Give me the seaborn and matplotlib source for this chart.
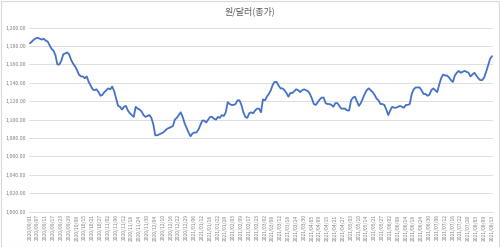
import numpy as np
import pandas as pd
import matplotlib
matplotlib.use("Agg")
import matplotlib.pyplot as plt
import seaborn as sns

# --- data -------------------------------------------------------------
title = "원/달러(종가)"
start_date = "2020-09-01"
end_date = "2021-08-13"
holidays = ["2020-09-30", "2020-10-01", "2020-10-02", "2020-10-09",
            "2020-12-25", "2020-12-31", "2021-01-01", "2021-02-11",
            "2021-02-12", "2021-03-01", "2021-05-05", "2021-05-19"]
usdkrw_close = [
    1183, 1185, 1187, 1188.5, 1189, 1188, 1187, 1188, 1186, 1185,
    1181, 1177, 1175, 1170, 1160, 1160, 1164, 1171, 1172, 1173,
    1171, 1165, 1161, 1158, 1154, 1149, 1147, 1147, 1145, 1147,
    1141, 1137, 1133, 1132, 1133, 1130, 1126, 1127, 1130, 1132,
    1134, 1133, 1136, 1131, 1123, 1115, 1114, 1111, 1114, 1115,
    1110, 1107, 1105, 1103, 1114, 1112, 1111, 1109, 1105, 1103,
    1104, 1105, 1102, 1095, 1083, 1083, 1084, 1085, 1086, 1088,
    1090, 1091, 1092, 1093, 1100, 1102, 1105, 1108, 1103, 1096,
    1091, 1086, 1082, 1085, 1086, 1086, 1089, 1094, 1099, 1099,
    1097, 1100, 1103, 1103, 1101, 1100, 1103, 1102, 1105, 1104,
    1108, 1119, 1117, 1116, 1116, 1117, 1121, 1121, 1116, 1108,
    1103, 1102, 1107, 1108, 1107, 1110, 1112, 1112, 1108, 1122,
    1121, 1125, 1128, 1132, 1138, 1141, 1141, 1137, 1134, 1134,
    1132, 1129, 1125, 1129, 1129, 1131, 1133, 1132, 1130, 1132,
    1133, 1132, 1131, 1128, 1123, 1117, 1116, 1119, 1122, 1124,
    1124, 1118, 1117, 1117, 1116, 1114, 1118, 1118, 1115, 1112,
    1112, 1112, 1110, 1110, 1121, 1124, 1125, 1120, 1115, 1118,
    1123, 1128, 1132, 1134, 1132, 1130, 1127, 1123, 1121, 1117,
    1117, 1116, 1111, 1105, 1110, 1114, 1113, 1113, 1114, 1115,
    1114, 1113, 1116, 1116, 1117, 1128, 1133, 1135, 1135, 1135,
    1132, 1128, 1128, 1126, 1127, 1132, 1134, 1132, 1130, 1138,
    1145, 1149, 1148, 1148, 1146, 1143, 1141, 1148, 1151, 1153,
    1151, 1152, 1153, 1152, 1151, 1147, 1149, 1151, 1148, 1145,
    1143, 1143, 1146, 1152, 1159, 1166, 1169,
]
y_ticks = [1000, 1020, 1040, 1060, 1080, 1100, 1120, 1140, 1160, 1180, 1200]

# --- build frame ------------------------------------------------------
days = pd.bdate_range(start_date, end_date)
days = days[~days.isin(pd.to_datetime(holidays))]
dates = [d.strftime("%Y/%m/%d") for d in days]
n = min(len(dates), len(usdkrw_close))
df = pd.DataFrame({"date": dates[:n], "close": usdkrw_close[:n]})

# --- plot -------------------------------------------------------------
sns.set_theme(style="white")
plt.rcParams["font.family"] = ["Noto Sans CJK KR", "DejaVu Sans"]

fig = plt.figure(figsize=(5.0, 2.47), dpi=100)
ax = fig.add_axes([0.058, 0.143, 0.928, 0.745])

sns.lineplot(data=df, x="date", y="close", ax=ax, color="#4472C4",
             linewidth=1.3, sort=False)

ax.set_ylim(1000, 1200)
ax.set_xlim(-0.5, n - 0.5)
ax.set_yticks(y_ticks)
ax.set_yticklabels([f"{v:,.2f}" for v in y_ticks], fontsize=3.8,
                   color="#7f7f7f")
ax.set_xticks(range(0, n, 4))
ax.set_xticklabels([df["date"].iloc[i] for i in range(0, n, 4)],
                   rotation=90, fontsize=3.6, color="#7f7f7f")
ax.tick_params(axis="both", length=0, pad=2)
ax.grid(axis="y", color="#d9d9d9", linewidth=0.6)
ax.grid(axis="x", visible=False)
for s in ["top", "right", "left"]:
    ax.spines[s].set_visible(False)
ax.spines["bottom"].set_color("#d9d9d9")
ax.spines["bottom"].set_linewidth(0.6)
ax.set_xlabel("")
ax.set_ylabel("")

fig.text(0.5, 0.955, title, ha="center", va="center", fontsize=6.5,
         color="#595959")
fig.patches.append(plt.Rectangle((0.001, 0.002), 0.997, 0.995,
                                 transform=fig.transFigure, fill=False,
                                 edgecolor="#d9d9d9", linewidth=0.8))

fig.savefig("out.png", dpi=100)
